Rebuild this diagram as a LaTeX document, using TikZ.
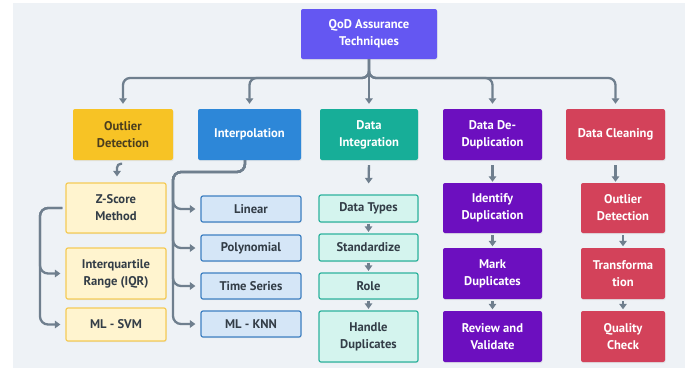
\documentclass[tikz,border=0pt]{standalone}
\usepackage{fontspec}
\setmainfont{PT Sans}
\usetikzlibrary{arrows.meta,shadows,calc}
\definecolor{bg}{HTML}{EEF2F6}
\definecolor{conn}{HTML}{6F7F8E}
\definecolor{ctop}{HTML}{6457F2}
\definecolor{cyel}{HTML}{F7C325}
\definecolor{cblu}{HTML}{2D87D8}
\definecolor{ctea}{HTML}{17AE98}
\definecolor{cpur}{HTML}{6C0FBF}
\definecolor{cred}{HTML}{D3425A}
\definecolor{lyel}{HTML}{FFF4CF}
\definecolor{byel}{HTML}{F5CB57}
\definecolor{lblu}{HTML}{D5E6F7}
\definecolor{bblu}{HTML}{3E80C2}
\definecolor{ltea}{HTML}{D4F4EE}
\definecolor{btea}{HTML}{2DB39D}
\definecolor{dtxt}{HTML}{333D47}
\definecolor{ytxt}{HTML}{4A3D1E}
\tikzset{
  x=1pt,y=-1pt,
  box/.style={rectangle, rounded corners=2pt, align=center, inner sep=1pt,
    font=\bfseries\fontsize{12.6}{17}\selectfont,
    drop shadow={opacity=0.12, shadow xshift=0.6pt, shadow yshift=-1.2pt}},
  solidbox/.style={box, fill=#1, draw=none, text=white},
  yelbox/.style={box, fill=lyel, draw=byel, line width=1.2pt, text=dtxt},
  blubox/.style={box, fill=lblu, draw=bblu, line width=1.2pt, text=dtxt},
  teabox/.style={box, fill=ltea, draw=btea, line width=1.2pt, text=dtxt},
  wh/.style 2 args={minimum width=#1, minimum height=#2},
  arr/.style={draw=conn, line width=2.3pt, -{Triangle[width=7.5pt,length=5.5pt]}},
}
\begin{document}
\begin{tikzpicture}
\useasboundingbox (0,0) rectangle (690,368);
\fill[bg] (13,3) rectangle (685,368);

% top
\node[solidbox=ctop, wh={136pt}{50pt}] (top) at (369,34) {QoD Assurance\\Techniques};

% level 1
\node[solidbox=cyel, text=ytxt, wh={100pt}{51pt}] (od) at (123,134.5) {Outlier\\Detection};
\node[solidbox=cblu, wh={103pt}{51pt}] (ip) at (249.5,134.5) {Interpolation};
\node[solidbox=ctea, wh={98pt}{51pt}] (di) at (369,134.5) {Data\\Integration};
\node[solidbox=cpur, wh={99pt}{51pt}] (dd) at (492.5,134.5) {Data De-\\Duplication};
\node[solidbox=cred, wh={99pt}{51pt}] (dc) at (615.5,134.5) {Data Cleaning};

% outlier children
\node[yelbox, wh={100pt}{50pt}] (zs) at (116,208) {Z-Score\\Method};
\node[yelbox, wh={100pt}{51pt}] (iqr) at (116,273.5) {Interquartile\\Range (IQR)};
\node[yelbox, wh={100pt}{33pt}] (svm) at (116,324.5) {ML - SVM};

% interpolation children
\node[blubox, wh={100pt}{26pt}] (lin) at (251,209) {Linear};
\node[blubox, wh={100pt}{26pt}] (poly) at (251,248) {Polynomial};
\node[blubox, wh={100pt}{26pt}] (ts) at (251,286) {Time Series};
\node[blubox, wh={100pt}{26pt}] (knn) at (251,324) {ML - KNN};

% data integration children
\node[teabox, wh={99pt}{27pt}] (dt) at (368.5,208.5) {Data Types};
\node[teabox, wh={99pt}{27pt}] (st) at (368.5,247.5) {Standardize};
\node[teabox, wh={99pt}{26pt}] (role) at (368.5,286) {Role};
\node[teabox, wh={99pt}{51pt}] (hd) at (368.5,336.5) {Handle\\Duplicates};

% dedup children
\node[solidbox=cpur, wh={99pt}{50pt}] (idd) at (492.5,208) {Identify\\Duplication};
\node[solidbox=cpur, wh={99pt}{51pt}] (md) at (492.5,273.5) {Mark\\Duplicates};
\node[solidbox=cpur, wh={99pt}{51pt}] (rv) at (492.5,336.5) {Review and\\Validate};

% cleaning children
\node[solidbox=cred, wh={84pt}{50pt}] (co) at (623,208) {Outlier\\Detection};
\node[solidbox=cred, wh={84pt}{51pt}] (tr) at (623,273.5) {Transforma\\tion};
\node[solidbox=cred, wh={84pt}{51pt}] (qc) at (623,336.5) {Quality\\Check};

% top bus
\coordinate (bus) at (369,78);
\foreach \c in {od,ip,dd,dc}{
  \draw[arr, rounded corners=7pt, shorten >=5pt] (top.south) -- (bus) -| (\c.north);
}
\draw[arr, shorten >=5pt] (top.south) -- (di.north);

% outlier detection hook
\draw[arr, rounded corners=4pt] ([xshift=-1pt,yshift=-3.5pt]od.south) -| ([xshift=1pt,yshift=6pt]zs.north);

% outlier tree
\coordinate (ozj) at (40,208);
\draw[arr, rounded corners=8pt, shorten <=3pt, shorten >=5pt] (zs.west) -- (ozj) |- (iqr.west);
\draw[arr, rounded corners=8pt, shorten <=3pt, shorten >=5pt] (zs.west) -- (ozj) |- (svm.west);

% interpolation tree
\coordinate (ipj) at (173,172);
\foreach \c in {lin,poly,ts,knn}{
  \draw[arr, rounded corners=8pt, shorten >=5pt] ([xshift=-4.5pt]ip.south) |- (ipj) |- (\c.west);
}

% data integration
\draw[arr, shorten <=5pt, shorten >=11pt] (di.south) -- (dt.north);
\draw[arr, shorten <=1pt, shorten >=1.5pt] (dt.south) -- (st.north);
\draw[arr, shorten <=1pt, shorten >=1.5pt] (st.south) -- (role.north);
\draw[arr, shorten <=1pt, shorten >=1.5pt] (role.south) -- (hd.north);

% dedup
\draw[arr, shorten <=5pt, shorten >=1pt] (dd.south) -- (idd.north);
\draw[arr, shorten <=2pt, shorten >=1.5pt] (idd.south) -- (md.north);
\draw[arr, shorten <=2pt, shorten >=1.5pt] (md.south) -- (rv.north);

% cleaning
\draw[arr, shorten <=5pt, shorten >=1pt] (dc.south) -- (dc.south |- co.north);
\draw[arr, shorten <=2pt, shorten >=1.5pt] (co.south) -- (tr.north);
\draw[arr, shorten <=2pt, shorten >=1.5pt] (tr.south) -- (qc.north);
\end{tikzpicture}
\end{document}
